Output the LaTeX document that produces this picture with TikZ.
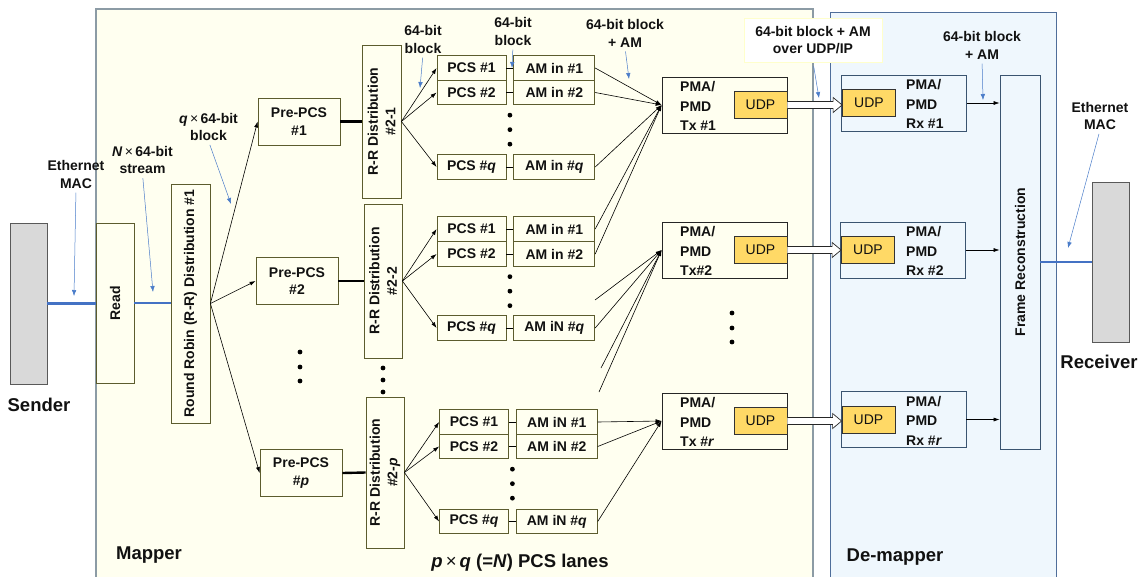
\documentclass[tikz,border=0pt]{standalone}
\usepackage{fontspec}
\setmainfont{Liberation Sans}
\usetikzlibrary{positioning,arrows.meta,calc}
\definecolor{ink}{HTML}{111111}
\definecolor{mapfill}{HTML}{FFFFF0}
\definecolor{mapB}{HTML}{8C9BA5}
\definecolor{demapfill}{HTML}{EFF7FD}
\definecolor{demapB}{HTML}{4F6E9A}
\definecolor{boxB}{HTML}{5C5C2E}
\definecolor{rxB}{HTML}{3A5470}
\definecolor{udpfill}{HTML}{FFD966}
\definecolor{endfill}{HTML}{D9D9D9}
\definecolor{endB}{HTML}{595959}
\definecolor{noteblue}{HTML}{4A7CC9}
\definecolor{wireblue}{HTML}{4472C4}
\definecolor{notebox}{HTML}{FFFFCC}

\begin{document}
\begin{tikzpicture}[x=1pt, y=-1pt,
    every node/.style={font=\bfseries\fontsize{14}{17.5}\selectfont, text=ink, inner sep=0pt},
    olivebox/.style={draw=boxB, fill=mapfill, line width=0.8pt, align=center},
    vbox/.style={olivebox, rotate=90},
    prebox/.style={olivebox, minimum width=82pt, minimum height=47pt},
    pcsbox/.style={olivebox, minimum width=69pt, minimum height=24.5pt},
    ambox/.style={olivebox, minimum width=81pt, minimum height=24.5pt},
    pmabox/.style={draw=black!85, fill=mapfill, line width=0.8pt, minimum width=125pt, minimum height=56pt},
    rxbox/.style={draw=rxB, fill=demapfill, line width=0.8pt, minimum width=125pt, minimum height=56pt},
    framebox/.style={draw=rxB, fill=demapfill, line width=0.8pt, rotate=90},
    udpbox/.style={draw=black!80, fill=udpfill, line width=0.8pt, minimum width=53pt, minimum height=27pt,
                   font=\fontsize{14}{16}\selectfont},
    endbox/.style={draw=endB, fill=endfill, line width=0.9pt, minimum width=37pt, minimum height=161pt},
    pmatext/.style={align=left, anchor=west, font=\bfseries\fontsize{14}{19.5}\selectfont},
    biglabel/.style={font=\bfseries\fontsize{18.5}{21}\selectfont},
    note/.style={align=center},
    pointer/.style={-{Latex[length=6pt, width=4.5pt]}, draw=noteblue, line width=0.5pt, shorten <=4pt},
    link/.style={-{Latex[length=6pt, width=4pt]}, draw=black, line width=0.6pt},
    lane/.style={draw=black, line width=0.6pt},
    bus/.style={draw=black, line width=2.4pt},
    wire/.style={draw=wireblue, line width=2.4pt},
    udplink/.style={draw=black!85, fill=white, line width=0.7pt, line join=miter},
  ]
  \useasboundingbox (0,0) rectangle (1142,576);

  % the two regions
  \draw[fill=mapfill, draw=mapB, line width=1.4pt] (96,9) rectangle (813,590);
  \draw[fill=demapfill, draw=demapB, line width=1pt] (830.5,12) rectangle (1056,590);
  \node[biglabel] (maplbl) at (149,555) {Mapper};
  \node[biglabel] (demaplbl) at (895,557) {De-mapper};

  % sender side
  \node[endbox] (sender) at (28.5,303.5) {};
  \node[biglabel] (senderlbl) at (39,405) {Sender};
  \node[vbox, minimum width=160pt, minimum height=38pt] (read) at (115,303) {Read};
  \node[vbox, minimum width=239pt, minimum height=39pt] (rr1) at (190.5,303.5)
        {Round Robin (R-R) Distribution \#1};
  % rotated boxes: .north is the left side, .south the right side
  \draw[wire] (sender.east) -- (sender.east -| read.north);
  \draw[wire] (read.south) -- (read.south -| rr1.north);

  % pre-PCS stage
  \node[prebox] (pre1) at (299,121.5) {Pre-PCS\\\#1};
  \node[prebox] (pre2) at (297,281) {Pre-PCS\\\#2};
  \node[prebox] (prep) at (301,473) {Pre-PCS\\\#\textit{p}};
  \foreach \p in {pre1,pre2,prep}
    \draw[link] (rr1.south) -- (\p.west);

  \node[vbox, minimum width=153pt, minimum height=39pt] (rr21) at (381.5,121.5) {R-R Distribution\\\#2-1};
  \node[vbox, minimum width=154pt, minimum height=38pt] (rr22) at (383,281) {R-R Distribution\\\#2-2};
  \node[vbox, minimum width=151pt, minimum height=38pt] (rr2p) at (385,472.5) {R-R Distribution\\\#2-\textit{p}};
  \draw[bus] (pre1.east) -- (rr21.north);
  \draw[bus] (pre2.east) -- (rr22.north);
  \draw[bus] (prep.east) -- (rr2p.north);

  % PCS lanes, one group per R-R distribution
  \foreach \g/\rr/\cx/\ya/\yb/\yq/\ina/\inq in
      {a/rr21/471.5/68/92.5/167/in/in, b/rr22/471.5/229/254/328/in/iN, c/rr2p/474/422/446.5/521.5/iN/iN} {
    \node[pcsbox] (pcs\g1) at (\cx,\ya) {PCS \#1};
    \node[pcsbox] (pcs\g2) at (\cx,\yb) {PCS \#2};
    \node[pcsbox] (pcs\g q) at (\cx,\yq) {PCS \#\textit{q}};
    \node[ambox, right=7pt of pcs\g1] (am\g1) {AM \ina\ \#1};
    \node[ambox, right=7pt of pcs\g2] (am\g2) {AM \ina\ \#2};
    \node[ambox, right=7pt of pcs\g q] (am\g q) {AM \inq\ \#\textit{q}};
    \foreach \k in {1,2,q} {
      \draw[lane] (pcs\g\k) -- (am\g\k);
      \draw[link] (\rr.south) -- (pcs\g\k.west);
    }
    \foreach \dy in {10,24.5,39}
      \fill ($(pcs\g2.south east)!.5!(am\g2.south west) + (0,\dy)$) circle (2.4pt);
  }

  % vertical ellipses
  \foreach \x/\y in {300/352, 300/367, 300/381, 383/368, 383/380, 383/392, 732/313, 732/328, 732/342}
    \fill (\x,\y) circle (2.4pt);

  % PMA/PMD transmitters
  \node[pmabox] (tx1) at (724.5,105) {};
  \node[pmabox] (tx2) at (724.5,250) {};
  \node[pmabox] (txr) at (724.5,421) {};
  \node[pmatext] (tx1t) at (680,106) {PMA/\\PMD\\Tx \#1};
  \node[pmatext] (tx2t) at (680,251) {PMA/\\PMD\\Tx\#2};
  \node[pmatext] (txrt) at (680,422) {PMA/\\PMD\\Tx \#\textit{r}};
  \foreach \k in {1,2,r}
    \node[udpbox, anchor=east] (udptx\k) at (tx\k.east) {UDP};

  \foreach \src in {ama1, ama2, amaq, amb1, amb2}
    \draw[link] (\src.east) -- (tx1.west);
  \coordinate (fan1) at (595,300);
  \coordinate (fan2) at (601,368);
  \coordinate (fan3) at (599,392);
  \foreach \src in {fan1, ambq.east, fan2, fan3}
    \draw[link] (\src) -- (tx2.west);
  \foreach \src in {amc1, amc2, amcq}
    \draw[link] (\src.east) -- (txr.west);

  % PMA/PMD receivers
  \node[rxbox] (rx1) at (904,103) {};
  \node[rxbox] (rx2) at (903,250) {};
  \node[rxbox] (rxr) at (903.5,419.5) {};
  \node[pmatext] (rx1t) at (906,104) {PMA/\\PMD\\Rx \#1};
  \node[pmatext] (rx2t) at (906,251) {PMA/\\PMD\\Rx \#2};
  \node[pmatext] (rxrt) at (906,420.5) {PMA/\\PMD\\Rx \#\textit{r}};
  \foreach \k in {1,2,r} {
    \node[udpbox, anchor=west] (udprx\k) at ([xshift=1pt]rx\k.west) {UDP};
    % hollow UDP/IP arrow
    \coordinate (ua) at (udptx\k.east);
    \coordinate (ub) at (udptx\k.east -| udprx\k.west);
    \draw[udplink] ($(ua)+(0,-3.5)$) -- ($(ub)+(-9,-3.5)$) -- ($(ub)+(-9,-7.5)$) -- (ub)
          -- ($(ub)+(-9,7.5)$) -- ($(ub)+(-9,3.5)$) -- ($(ua)+(0,3.5)$);
  }

  % frame reconstruction and receiver
  \node[framebox, minimum width=374pt, minimum height=40pt] (frame) at (1020,262) {Frame Reconstruction};
  \foreach \k in {1,2,r}
    \draw[link] (rx\k.east) -- (rx\k.east -| frame.north);
  \node[endbox, minimum height=160pt] (receiver) at (1110.5,262) {};
  \node[biglabel] (receiverlbl) at (1099,362) {Receiver};
  \draw[wire] (frame.south) -- (receiver.west);

  % annotations
  \node[note] (ethL) at (76,174.5) {Ethernet\\MAC};
  \node[note] (nL) at (142.5,160) {\textit{N}\,{\mdseries×}\,64-bit\\stream};
  \node[note] (qL) at (208.5,127) {\textit{q}\,{\mdseries×}\,64-bit\\block};
  \node[note] (blkA) at (423,39.5) {64-bit\\block};
  \node[note] (blkB) at (513,31.5) {64-bit\\block};
  \node[note] (amL) at (625,33.5) {64-bit block\\+ AM};
  \node[note, draw=notebox, fill=white, line width=0.8pt, minimum width=138pt, minimum height=44pt]
        (udpL) at (813,40) {64-bit block + AM\\over UDP/IP};
  \node[note] (amR) at (982,45.5) {64-bit block\\+ AM};
  \node[note] (ethR) at (1100,116) {Ethernet\\MAC};
  \coordinate (ethLtip) at (74,296);
  \coordinate (nLtip) at (153,292);
  \coordinate (qLtip) at (231,204);
  \coordinate (blkAtip) at (420,88);
  \coordinate (blkBtip) at (512,68);
  \coordinate (amLtip) at (629,79);
  \coordinate (udpLtip) at (819,98);
  \coordinate (amRtip) at (983,100);
  \coordinate (ethRtip) at (1068,248);
  \foreach \n in {ethL, nL, qL, blkA, blkB, amL, udpL, amR, ethR}
    \draw[pointer] (\n.south) -- (\n tip);

  \node[biglabel] (laneslbl) at (520,563)
        {\textit{p}\,{\mdseries×}\,\textit{q} (=\textit{N}) PCS lanes};
\end{tikzpicture}
\end{document}
